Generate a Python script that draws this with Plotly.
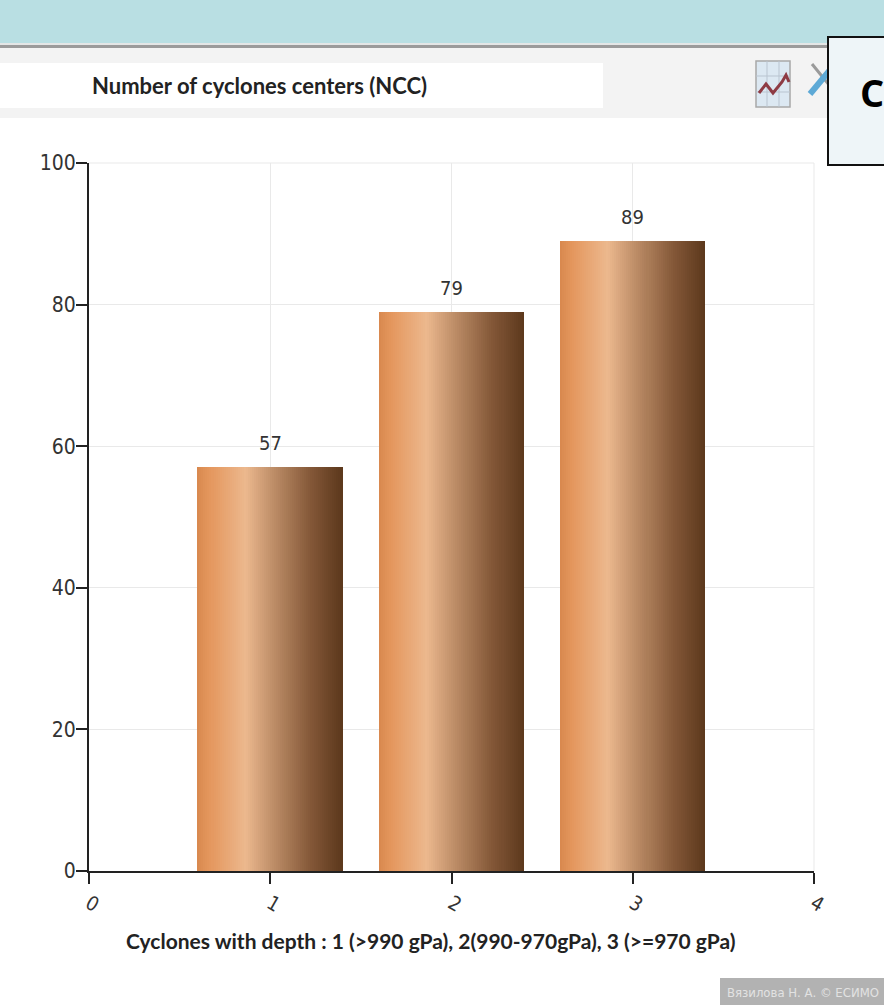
import plotly.graph_objects as go

# Cyclone counts by depth class
depth_classes = [1, 2, 3]
center_counts = [57, 79, 89]
x_ticks = [0, 1, 2, 3, 4]
y_ticks = [0, 20, 40, 60, 80, 100]

chart_title = "Number of cyclones centers (NCC)"
x_title = "Cyclones with depth : 1 (>990 gPa), 2(990-970gPa), 3 (>=970 gPa)"
credit = "Вязилова Н. А. © ЕСИМО"

W, H = 884, 1007
PLOT_L, PLOT_R, PLOT_T, PLOT_B = 89, 814, 163, 871
NARROW = "DejaVu Sans Condensed, Liberation Sans"
BODY = "Lato"

BAR_WIDTH = 0.8
STRIPS = 72
STOPS = [(0.0, (216, 136, 78)), (0.08, (228, 150, 92)), (0.33, (236, 184, 142)),
         (0.52, (190, 142, 104)), (0.78, (132, 88, 56)), (1.0, (92, 56, 28))]


def px(x):
    return (x - PLOT_L) / (PLOT_R - PLOT_L)


def py(y):
    return (PLOT_B - y) / (PLOT_B - PLOT_T)


def shade(t):
    for (a, ca), (b, cb) in zip(STOPS, STOPS[1:]):
        if t <= b:
            f = (t - a) / (b - a)
            r, g, bl = (round(u + (v - u) * f) for u, v in zip(ca, cb))
            return f"rgb({r},{g},{bl})"
    return "rgb(92,56,28)"


def rect(x0, y0, x1, y1, fill, line=None, lw=0, layer="below"):
    return dict(type="rect", xref="paper", yref="paper", x0=px(x0), x1=px(x1),
                y0=py(y0), y1=py(y1), fillcolor=fill, layer=layer,
                line=dict(color=line or fill, width=lw))


def path(points, color, width):
    d = "M " + " L ".join(f"{px(x):.5f},{py(y):.5f}" for x, y in points)
    return dict(type="path", xref="paper", yref="paper", path=d, layer="above",
                line=dict(color=color, width=width))


fig = go.Figure()

# Each bar is a stack of thin side-by-side strips to carry the metallic shading
step = BAR_WIDTH / STRIPS
for i in range(STRIPS):
    fig.add_bar(x=depth_classes, y=center_counts, width=step * 1.2,
                offset=-BAR_WIDTH / 2 - 0.002 + i * step,
                marker=dict(color=shade((i + 0.5) / STRIPS), line=dict(width=0)),
                hoverinfo="skip", showlegend=False)

shapes = [
    rect(-5, -5, 890, 43, "#b9dfe3"),
    rect(-5, 43, 890, 45, "#e4e6e6"),
    rect(-5, 45, 890, 48, "#9b9b9b"),
    rect(-5, 48, 890, 118, "#f3f3f3"),
    rect(-5, 63, 603, 108, "#ffffff"),
    # chart toolbar icon
    rect(756, 61, 790, 107, "#dce8f2", "#a8a8a8", 1.5, "above"),
    path([(756, 76), (790, 76)], "#b9c4d0", 1),
    path([(756, 92), (790, 92)], "#b9c4d0", 1),
    path([(767, 61), (767, 107)], "#b9c4d0", 1),
    path([(779, 61), (779, 107)], "#b9c4d0", 1),
    path([(759, 93), (766, 84), (773, 93), (782, 82), (786, 75), (789, 82)], "#8e3b44", 3),
    # wrench icon, partly covered by the box
    path([(812, 64), (830, 86)], "#9a9a9a", 3),
    path([(810, 94), (830, 70)], "#5da9d6", 6),
    # callout box at the right edge
    rect(828, 37, 895, 165, "#eef5f8", "#111111", 2, "above"),
    # credit plate
    rect(720, 978, 890, 1005, "#b2b2b2", layer="above"),
]

annotations = [
    dict(x=c, y=v, text=str(v), xref="x", yref="y", yshift=24, showarrow=False,
         font=dict(family=NARROW, size=20, color="#333333"))
    for c, v in zip(depth_classes, center_counts)
]
annotations += [
    dict(x=px(858), y=py(92), xref="paper", yref="paper", text="<b>C</b>", xanchor="left",
         yanchor="middle", showarrow=False, font=dict(family="Open Sans", size=38, color="#000000")),
    dict(x=px(725), y=py(992), xref="paper", yref="paper", text=credit, xanchor="left",
         yanchor="middle", showarrow=False, font=dict(family=NARROW, size=13, color="#e2e2e2")),
    dict(x=px(430), y=py(940), xref="paper", yref="paper", text=f"<b>{x_title.replace('>', '&gt;')}</b>",
         yanchor="middle", showarrow=False, font=dict(family=BODY, size=21, color="#222222")),
]

axis_common = dict(showline=True, linecolor="#222222", linewidth=2, ticks="outside",
                   tickcolor="#222222", ticklen=11, tickwidth=1.5,
                   gridcolor="#e9e9e9", gridwidth=1, zeroline=False)

fig.update_layout(
    width=W, height=H, autosize=False,
    margin=dict(l=PLOT_L, r=W - PLOT_R, t=PLOT_T, b=H - PLOT_B, pad=0),
    paper_bgcolor="#ffffff", plot_bgcolor="#ffffff",
    barmode="overlay", bargap=0, showlegend=False,
    title=dict(text=f"<b>{chart_title}</b>", x=92 / W, xanchor="left", y=1 - 86 / H, yanchor="middle",
               font=dict(family=BODY, size=22, color="#222222")),
    xaxis=dict(range=[0, 4], tickvals=x_ticks, ticktext=[str(t) for t in x_ticks], tickangle=30,
               tickfont=dict(family=NARROW, size=20, color="#333333"), **axis_common),
    yaxis=dict(range=[0, 100], tickvals=y_ticks, ticktext=[str(t) for t in y_ticks],
               ticklabelstandoff=-4,
               tickfont=dict(family=NARROW, size=21, color="#333333"), **axis_common),
    shapes=shapes, annotations=annotations,
)

# Light frame along the top and right of the plot area
fig.add_shape(type="line", xref="paper", yref="paper", x0=0, x1=1, y0=1, y1=1,
              line=dict(color="#e9e9e9", width=1), layer="below")
fig.add_shape(type="line", xref="paper", yref="paper", x0=1, x1=1, y0=0, y1=1,
              line=dict(color="#e9e9e9", width=1), layer="below")

fig.write_html("out.html", config=dict(displayModeBar=False))
